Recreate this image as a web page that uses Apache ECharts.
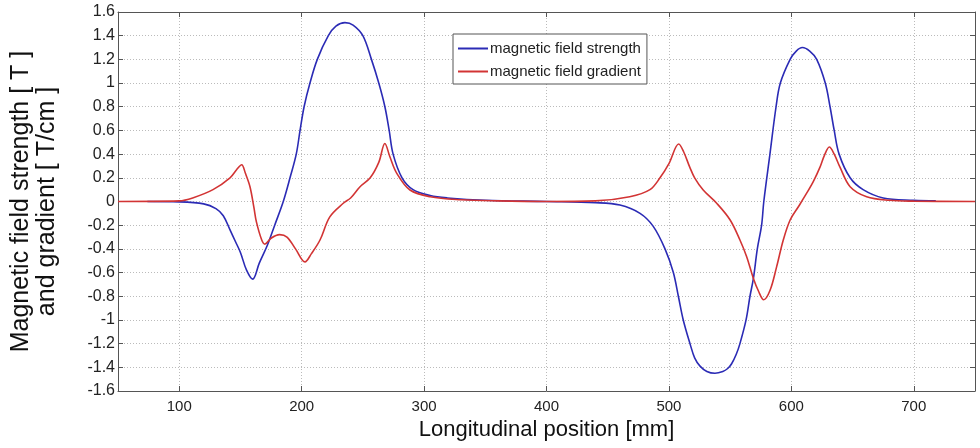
<!DOCTYPE html>
<html>
<head>
<meta charset="utf-8">
<script src="https://cdn.jsdelivr.net/npm/echarts@6/dist/echarts.min.js"></script>
<style>
  html, body { margin: 0; padding: 0; background: #fff; }
  #chart { width: 980px; height: 448px; }
</style>
</head>
<body>
<div id="chart"></div>
<script>
// positions [mm] and values
var strengthPos = [74, 100, 120, 130, 136, 141.5, 146, 150, 155, 160, 165.4, 172, 178, 185, 190.5, 195.6, 198.7, 202, 206.8, 212.8, 221.8, 228, 235.4, 242, 250, 257, 263, 268, 271.5, 274.7, 282, 291, 305, 319, 350, 400, 440, 460, 476.4, 487.2, 496.8, 503.6, 507.7, 511.7, 517.2, 521, 525.4, 531, 537.6, 544, 548, 551.2, 555, 558, 563, 566.2, 569, 572.2, 575.7, 577.5, 582.5, 587.5, 591, 599, 604, 609, 615, 620.7, 627.7, 631.6, 635, 639, 648, 658.6, 675, 700, 718];
var strengthVal = [0, -0.003, -0.02, -0.06, -0.12, -0.24, -0.34, -0.43, -0.58, -0.655, -0.52, -0.37, -0.2, 0, 0.2, 0.4, 0.6, 0.8, 1.0, 1.2, 1.4, 1.48, 1.51, 1.49, 1.4, 1.2, 1.0, 0.8, 0.6, 0.4, 0.2, 0.1, 0.05, 0.03, 0.01, 0, -0.01, -0.03, -0.1, -0.21, -0.4, -0.6, -0.8, -1.0, -1.2, -1.32, -1.39, -1.435, -1.45, -1.435, -1.41, -1.37, -1.29, -1.2, -1.0, -0.8, -0.65, -0.4, -0.2, 0, 0.4, 0.8, 1.0, 1.2, 1.27, 1.3, 1.27, 1.2, 1.0, 0.8, 0.6, 0.4, 0.2, 0.1, 0.03, 0.01, 0.005];

var gradientPos = [50, 100, 111, 127.6, 141.5, 147, 151, 154, 157.8, 161, 163, 167.4, 170, 175, 182, 188, 195, 202.7, 208, 215, 223, 234, 240, 247.7, 256, 263, 268, 272, 277.6, 288.5, 305, 330, 360, 400, 440, 468, 484.5, 492.7, 500, 508, 512, 517, 521, 528, 539, 550, 558, 563.5, 569, 573.3, 577.4, 582.6, 588, 593.4, 599, 606, 612.5, 618, 623.4, 627, 631, 635, 639.7, 648, 661.5, 680, 700, 750];
var gradientVal = [0, 0.005, 0.03, 0.1, 0.2, 0.27, 0.31, 0.24, 0.125, -0.05, -0.17, -0.325, -0.36, -0.31, -0.28, -0.3, -0.4, -0.51, -0.44, -0.325, -0.13, -0.015, 0.03, 0.125, 0.2, 0.33, 0.49, 0.38, 0.24, 0.097, 0.04, 0.015, 0.005, 0, 0.005, 0.04, 0.1, 0.2, 0.32, 0.486, 0.42, 0.29, 0.2, 0.097, -0.015, -0.156, -0.325, -0.466, -0.65, -0.76, -0.83, -0.75, -0.55, -0.325, -0.156, -0.04, 0.07, 0.17, 0.29, 0.39, 0.46, 0.4, 0.29, 0.125, 0.04, 0.01, 0.003, 0];

var xTicks = [100, 200, 300, 400, 500, 600, 700];
var seriesNames = ['magnetic field strength', 'magnetic field gradient'];

function zip(a, b) {
  var out = [];
  for (var i = 0; i < a.length; i++) out.push([a[i], b[i]]);
  return out;
}

var frame = { show: true, onZero: false, lineStyle: { color: '#555', width: 1 } };
var grid = { show: true, lineStyle: { color: '#bbb', width: 1, type: [1, 2] } };
var font = 'Liberation Sans, Arial, sans-serif';

var myChart = echarts.init(document.getElementById('chart'));
var option = {
  animation: false,
  backgroundColor: '#fff',
  grid: { left: 118, right: 5, top: 12, bottom: 57 },
  legend: {
    orient: 'vertical',
    left: 453,
    top: 34,
    padding: [7, 6, 5, 5],
    itemGap: 8,
    itemWidth: 30,
    itemHeight: 2,
    icon: 'rect',
    borderColor: '#555',
    borderWidth: 1,
    backgroundColor: '#fff',
    textStyle: { fontFamily: font, fontSize: 15, color: '#222', padding: [0, 0, 0, -3] },
    data: seriesNames
  },
  xAxis: [{
    type: 'value',
    min: 50,
    max: 750,
    name: 'Longitudinal position [mm]',
    nameLocation: 'middle',
    nameGap: 26,
    nameTextStyle: { fontFamily: font, fontSize: 22, color: '#111' },
    axisLine: frame,
    axisTick: { inside: true, length: 5, customValues: xTicks, lineStyle: { color: '#555' } },
    axisLabel: { customValues: xTicks, margin: 8, fontSize: 15, color: '#222', fontFamily: font },
    splitLine: grid
  }, {
    type: 'value',
    position: 'top',
    min: 50,
    max: 750,
    axisLine: frame,
    axisTick: { inside: true, length: 5, customValues: xTicks, lineStyle: { color: '#555' } },
    axisLabel: { show: false },
    splitLine: { show: false }
  }],
  yAxis: [{
    type: 'value',
    min: -1.6,
    max: 1.6,
    interval: 0.2,
    name: 'Magnetic field strength [ T ]\nand gradient [ T/cm ]',
    nameLocation: 'middle',
    nameRotate: 90,
    nameGap: 58,
    nameTextStyle: { fontFamily: font, fontSize: 25, lineHeight: 26, color: '#111', align: 'center' },
    axisLine: frame,
    axisTick: { inside: true, length: 5, lineStyle: { color: '#555' } },
    axisLabel: { margin: 3, fontSize: 16, color: '#222', fontFamily: font },
    splitLine: grid
  }, {
    type: 'value',
    position: 'right',
    min: -1.6,
    max: 1.6,
    interval: 0.2,
    axisLine: frame,
    axisTick: { inside: true, length: 5, lineStyle: { color: '#555' } },
    axisLabel: { show: false },
    splitLine: { show: false }
  }],
  series: [{
    name: seriesNames[0],
    type: 'line',
    xAxisIndex: 0,
    yAxisIndex: 0,
    data: zip(strengthPos, strengthVal),
    smooth: 0.35,
    showSymbol: false,
    color: '#2b2bb5',
    lineStyle: { width: 1.6, color: '#2b2bb5' }
  }, {
    name: seriesNames[1],
    type: 'line',
    xAxisIndex: 0,
    yAxisIndex: 0,
    data: zip(gradientPos, gradientVal),
    smooth: 0.35,
    showSymbol: false,
    color: '#d23434',
    lineStyle: { width: 1.6, color: '#d23434' }
  }]
};
myChart.setOption(option);
</script>
</body>
</html>
